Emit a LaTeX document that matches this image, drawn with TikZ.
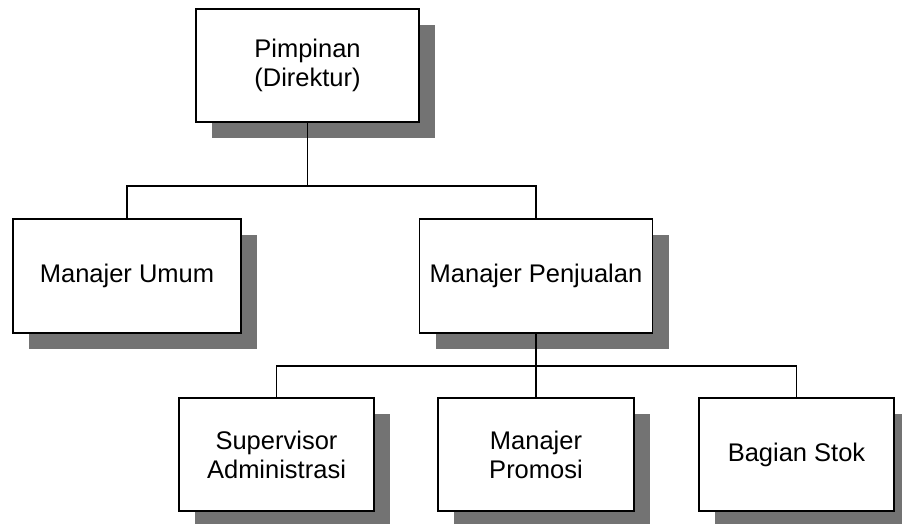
\documentclass[tikz,border=0pt]{standalone}
\usepackage{fontspec}
\setmainfont{Liberation Sans}
\usetikzlibrary{shadows}
\begin{document}
\begin{tikzpicture}[x=1pt,y=-1pt,
  orgbox/.style={draw=black, line width=1.3pt, fill=white, rectangle,
    inner sep=0pt, align=center,
    font=\fontsize{25.5pt}{29pt}\selectfont,
    drop shadow={shadow xshift=16pt, shadow yshift=-16pt, fill=black!55, opacity=1}},
  link/.style={draw=black, line width=1.3pt}]
\useasboundingbox (0,0) rectangle (902,523);
\node[orgbox, minimum width=223pt, minimum height=113pt] (dir) at (307.5,65.5) {Pimpinan\\(Direktur)};
\node[orgbox, minimum width=228pt, minimum height=114pt] (umum) at (127,276) {Manajer Umum};
\node[orgbox, minimum width=233pt, minimum height=114pt] (jual) at (536,276) {Manajer Penjualan};
\node[orgbox, minimum width=195pt, minimum height=113pt] (adm) at (276.5,454.5) {Supervisor\\Administrasi};
\node[orgbox, minimum width=196pt, minimum height=113pt] (promo) at (536,454.5) {Manajer\\Promosi};
\node[orgbox, minimum width=195pt, minimum height=113pt] (stok) at (796.5,454.5) {Bagian Stok};
\coordinate (j1) at (307.5,186);
\coordinate (j2) at (536,366);
\draw[link] (dir.south) -- (j1);
\draw[link] (umum.north) |- (j1) -| (jual.north);
\draw[link] (jual.south) -- (promo.north);
\draw[link] (adm.north) |- (j2) -| (stok.north);
\end{tikzpicture}
\end{document}
